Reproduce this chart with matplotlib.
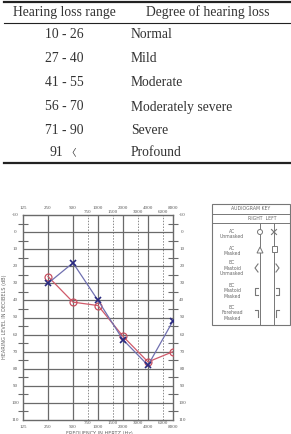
import matplotlib
matplotlib.use("Agg")
import matplotlib.pyplot as plt
import numpy as np
from matplotlib.patches import Rectangle, Circle, Polygon

# ---------------- data ----------------
hearing_ranges = ["10 - 26", "27 - 40", "41 - 55", "56 - 70", "71 - 90", "91 \u3008"]
hearing_degrees = ["Normal", "Mild", "Moderate", "Moderately severe", "Severe", "Profound"]
table_headers = ["Hearing loss range", "Degree of hearing loss"]

freqs = [250, 500, 1000, 2000, 4000, 8000]
right_ear_db = [26, 41, 43, 61, 76, 70]
left_ear_db = [30, 18, 40, 63, 78, 52]

octave_ticks = [125, 250, 500, 1000, 2000, 4000, 8000]
half_ticks = [750, 1500, 3000, 6000]
db_ticks = list(range(-10, 111, 10))

key_rows = ["AC\nUnmasked", "AC\nMasked", "BC\nMastoid\nUnmasked", "BC\nMastoid\nMasked",
            "BC\nForehead\nMasked"]

W, H = 291, 434
fig = plt.figure(figsize=(W / 100, H / 100), dpi=100)
fig.patch.set_facecolor("white")

# overlay axes in pixel coordinates (table + key)
ov = fig.add_axes([0, 0, 1, 1])
ov.set_xlim(0, W)
ov.set_ylim(H, 0)
ov.axis("off")

serif = ["Liberation Serif", "DejaVu Serif"]
tc = "#333333"
fs = 9.8
# table rules
ov.plot([4, 291], [1.5, 1.5], color="#222222", lw=1.6)
ov.plot([4, 291], [23, 23], color="#222222", lw=0.8)
ov.plot([4, 291], [163, 163], color="#222222", lw=1.6)
ov.text(64, 12.5, table_headers[0], ha="center", va="center", fontsize=fs, family=serif, color=tc)
ov.text(208, 12.5, table_headers[1], ha="center", va="center", fontsize=fs, family=serif, color=tc)
row_y = [35, 59, 83, 107, 130, 153]
for y, r, d in zip(row_y, hearing_ranges, hearing_degrees):
    if "\u3008" in r:
        num, sign = r.split(" ")
        ov.text(63, y, num, ha="right", va="center", fontsize=fs, family=serif, color=tc)
        ov.text(66, y, sign, ha="left", va="center", fontsize=fs * 0.7,
                family=["Noto Sans CJK KR", "DejaVu Sans"], color=tc)
    else:
        ov.text(64, y, r, ha="center", va="center", fontsize=fs, family=serif, color=tc)
    ov.text(131, y, d, ha="left", va="center", fontsize=fs, family=serif, color=tc)

# ---------------- audiogram ----------------
gx0, gx1, gy0, gy1 = 23, 173, 215, 420
ax = fig.add_axes([gx0 / W, 1 - gy1 / H, (gx1 - gx0) / W, (gy1 - gy0) / H])
ax.set_xscale("log", base=2)
ax.set_xlim(125, 8000)
ax.set_ylim(110, -10)
gc = "#6a6a6a"
for s in ax.spines.values():
    s.set_color(gc)
    s.set_linewidth(1.0)
for f in octave_ticks[1:-1]:
    ax.axvline(f, color=gc, lw=0.9, zorder=1)
for f in half_ticks:
    ax.axvline(f, color="#8a8a8a", lw=0.7, ls=(0, (1.5, 1.5)), zorder=1)
for d in db_ticks[1:-1]:
    ax.axhline(d, color=gc, lw=0.9, zorder=1)
ax.set_xticks([])
ax.set_xticks([], minor=True)
ax.set_yticks(list(range(-5, 110, 10)))
ax.set_yticklabels([])
ax.set_yticks([], minor=True)
ax.tick_params(axis="y", which="major", direction="inout", length=7, width=0.8, color=gc,
               left=True, right=True)

lab = dict(fontsize=3.6, color="#555555", family=serif)
for d in db_ticks:
    ax.text(-0.05, d, str(d), transform=ax.get_yaxis_transform(), ha="center", va="center", **lab)
    ax.text(1.06, d, str(d), transform=ax.get_yaxis_transform(), ha="center", va="center", **lab)
for f in octave_ticks:
    ax.text(f, 1.035, str(f), transform=ax.get_xaxis_transform(), ha="center", va="center", **lab)
    ax.text(f, -0.035, str(f), transform=ax.get_xaxis_transform(), ha="center", va="center", **lab)
for f in half_ticks:
    ax.text(f, 1.015, str(f), transform=ax.get_xaxis_transform(), ha="center", va="center", **lab)
    ax.text(f, -0.015, str(f), transform=ax.get_xaxis_transform(), ha="center", va="center", **lab)

ax.plot(freqs, right_ear_db, color="#d05a6a", lw=0.9, marker="o", ms=5, mfc="none",
        mec="#c85060", mew=0.9, zorder=4)
ax.plot(freqs, left_ear_db, color="#7070b0", lw=0.9, marker="x", ms=5,
        mec="#2a2a80", mew=1.2, zorder=5)

fig.text(5 / W, 1 - 317 / H, "HEARING LEVEL IN DECIBELS (dB)", rotation=90, ha="center",
         va="center", fontsize=3.6, color="#666666")
fig.text(99 / W, 1 - 433 / H, "FREQUENCY IN HERTZ (Hz)", ha="center", va="center",
         fontsize=3.6, color="#666666")

# ---------------- audiogram key ----------------
kc = "#777777"
ov.add_patch(Rectangle((212, 204), 78, 121, fill=False, ec=kc, lw=0.8))
ov.plot([212, 290], [214, 214], color=kc, lw=0.7)
ov.plot([212, 290], [223, 223], color=kc, lw=0.7)
kfont = dict(fontsize=3.3, color="#666666", ha="center", va="center")
ov.text(251, 209, "AUDIOGRAM KEY", **kfont)
ov.text(262, 219, "RIGHT  LEFT", **kfont)
rx, lx = 260, 274
ov.plot([rx, rx], [223, 325], color=kc, lw=0.7)
ov.plot([lx, lx], [223, 325], color=kc, lw=0.7)
key_y = [234, 251, 268, 291, 313]
for y, t in zip(key_y, key_rows):
    ov.text(232, y, t, linespacing=1.1, **kfont)
# symbols
ov.add_patch(Circle((rx, 232), 2.5, fill=True, fc="white", ec=kc, lw=0.7, zorder=3))
ov.plot([lx - 2.5, lx + 2.5], [229.5, 234.5], color=kc, lw=0.8)
ov.plot([lx - 2.5, lx + 2.5], [234.5, 229.5], color=kc, lw=0.8)
ov.add_patch(Polygon([[rx, 247], [rx - 3, 253], [rx + 3, 253]], closed=True, fc="white",
                     ec=kc, lw=0.7, zorder=3))
ov.add_patch(Rectangle((lx - 2.5, 246), 5, 6, fc="white", ec=kc, lw=0.7, zorder=3))
ov.plot([rx - 2, rx - 5, rx - 2], [264, 268, 272], color=kc, lw=0.8)
ov.plot([lx + 2, lx + 5, lx + 2], [264, 268, 272], color=kc, lw=0.8)
ov.plot([rx - 2, rx - 5, rx - 5, rx - 2], [288, 288, 295, 295], color=kc, lw=0.8)
ov.plot([lx + 2, lx + 5, lx + 5, lx + 2], [288, 288, 295, 295], color=kc, lw=0.8)
ov.plot([rx - 5, rx - 2, rx - 2], [310, 310, 317], color=kc, lw=0.8)
ov.plot([lx + 5, lx + 2, lx + 2], [310, 310, 317], color=kc, lw=0.8)

fig.savefig("out.png", dpi=100, facecolor="white")
